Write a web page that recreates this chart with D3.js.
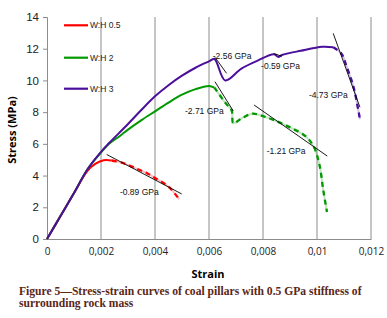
<!DOCTYPE html>
<html>
<head>
<script src="https://cdn.jsdelivr.net/npm/d3@7"></script>
<style>
  body{margin:0;background:#fff;font-family:"Liberation Sans",Arial,sans-serif;}
</style>
</head>
<body>
<div id="chart"></div>
<script>
// curves: [strain, stress MPa]
var redSolid = [[0,0],[0.0005,1.45],[0.001,2.9],[0.0015,4.3],[0.0018,4.75],[0.0021,4.97],[0.0024,4.95]]
var redDash = [[0.0024,4.95],[0.0028,4.8],[0.0033,4.45],[0.0037,4.15],[0.004,3.85],[0.0045,3.3],[0.0049,2.5]]
var greenSolid = [[0,0],[0.0005,1.45],[0.001,2.9],[0.0015,4.4],[0.002,5.45],[0.0023,6.0],[0.0027,6.5],[0.003,6.9],[0.0035,7.5],[0.004,8.05],[0.0045,8.6],[0.005,9.1],[0.0055,9.45],[0.006,9.65],[0.0062,9.55]]
var greenDash = [[0.0062,9.55],[0.0066,8.6],[0.00684,8.1],[0.0069,7.3],[0.0072,7.6],[0.0076,7.9],[0.008,7.75],[0.0084,7.5],[0.009,7.04],[0.0096,6.45],[0.0099,5.75],[0.0101,4.6],[0.01023,3.1],[0.01037,1.7]]
var purpleSolid = [[0,0],[0.0005,1.45],[0.001,2.9],[0.0015,4.4],[0.002,5.5],[0.0023,6.05],[0.003,7.25],[0.0035,8.15],[0.004,9.0],[0.0045,9.7],[0.005,10.3],[0.0055,10.8],[0.006,11.2],[0.0062,11.35],[0.0066,10.0],[0.0072,10.75],[0.0078,11.25],[0.0084,11.65],[0.00857,11.48],[0.0087,11.6],[0.0094,11.87],[0.0102,12.12],[0.0106,12.09]]
var purpleDash = [[0.0106,12.09],[0.0109,11.7],[0.0111,10.86],[0.01135,9.6],[0.01153,8.13],[0.01159,7.55]]

// stiffness lines: label, start, end, label position
var slopeLines = [
  {label:"-0.89 GPa", p1:[0.00221,5.33], p2:[0.00499,2.84], at:[0.0027,2.75]},
  {label:"-2.71 GPa", p1:[0.00622,9.92], p2:[0.0069,8.07], at:[0.00511,7.9]},
  {label:"-2.56 GPa", p1:[0.00622,11.46], p2:[0.00665,10.45], at:[0.00614,11.35]},
  {label:"-0.59 GPa", p1:[0.0084,11.7], p2:[0.0087,11.52], at:[0.00793,10.75]},
  {label:"-4.73 GPa", p1:[0.0106,12.97], p2:[0.01159,8.31], at:[0.0097,8.9]},
  {label:"-1.21 GPa", p1:[0.00767,8.45], p2:[0.01038,5.23], at:[0.00814,5.35]}
]

var legendNames = ["W:H 0.5","W:H 2","W:H 3"]
var colors = ["#ff0000","#009900","#4b0f9b"]
var xTicks = [0,0.002,0.004,0.006,0.008,0.01,0.012]
var xTickLabels = ["0","0,002","0,004","0,006","0,008","0,01","0,012"]
var yTicks = [0,2,4,6,8,10,12,14]

var svg = d3.select("#chart").append("svg").attr("width",387).attr("height",318)

var x = d3.scaleLinear().domain([0,0.012]).range([47,371])
var y = d3.scaleLinear().domain([0,14]).range([239,17])

// vertical gridlines
svg.selectAll(".grid").data(xTicks.slice(1)).enter().append("line")
  .attr("x1",d=>x(d)).attr("x2",d=>x(d)).attr("y1",y(14)).attr("y2",y(0))
  .attr("stroke","#8c8c8c").attr("stroke-width",1)

var yAxis = svg.append("g").attr("transform","translate("+x(0)+",0)")
  .call(d3.axisLeft(y).tickValues(yTicks).tickSize(4).tickPadding(4))
yAxis.selectAll("text").attr("font-size",11.5).attr("fill","#222").attr("font-family","Liberation Sans, Arial")
yAxis.selectAll("path,line").attr("stroke","#8c8c8c")

var xAxis = svg.append("g").attr("transform","translate(0,"+y(0)+")")
  .call(d3.axisBottom(x).tickValues(xTicks).tickSize(0).tickPadding(9).tickFormat((d,i)=>xTickLabels[i]))
xAxis.selectAll("text").attr("font-size",10).attr("fill","#222").attr("font-family","Open Sans, sans-serif")
xAxis.select(".domain").attr("stroke","#8c8c8c")

svg.append("text").text("Strain").attr("x",208).attr("y",278).attr("text-anchor","middle")
  .attr("font-size",11).attr("font-weight","bold").attr("font-family","Open Sans, sans-serif")
svg.append("text").text("Stress (MPa)").attr("transform","translate(16,130) rotate(-90)")
  .attr("text-anchor","middle").attr("font-size",11).attr("font-weight","bold").attr("font-family","Open Sans, sans-serif")

var lineLin = d3.line().x(d=>x(d[0])).y(d=>y(d[1])).curve(d3.curveCatmullRom)

var series = [[redSolid,redDash],[greenSolid,greenDash],[purpleSolid,purpleDash]]
series.forEach(function(s,i){
  svg.append("path").attr("d",lineLin(s[1])).attr("fill","none")
    .attr("stroke",colors[i]).attr("stroke-opacity",0.25).attr("stroke-width",2)
  svg.append("path").attr("d",lineLin(s[1])).attr("fill","none")
    .attr("stroke",colors[i]).attr("stroke-width",2.3).attr("stroke-dasharray","5,4")
  svg.append("path").attr("d",lineLin(s[0])).attr("fill","none")
    .attr("stroke",colors[i]).attr("stroke-width",2)
})

slopeLines.forEach(function(s){
  svg.append("line").attr("x1",x(s.p1[0])).attr("y1",y(s.p1[1]))
    .attr("x2",x(s.p2[0])).attr("y2",y(s.p2[1])).attr("stroke","#000").attr("stroke-width",0.9)
  svg.append("text").text(s.label).attr("x",x(s.at[0])).attr("y",y(s.at[1]))
    .attr("font-size",8.5).attr("fill","#111").attr("font-family","Liberation Sans, Arial")
})

// legend
legendNames.forEach(function(n,i){
  var ly = [25.3,57.7,88.7][i]
  svg.append("line").attr("x1",64).attr("x2",88).attr("y1",ly).attr("y2",ly)
    .attr("stroke",colors[i]).attr("stroke-width",2.2)
  svg.append("text").text(n).attr("x",90).attr("y",ly+3).attr("font-size",8.5)
    .attr("fill","#222").attr("font-family","Liberation Sans, Arial")
})

var cap = svg.append("text").attr("font-family","Liberation Serif, serif").attr("font-weight","bold")
  .attr("font-size",11.6).attr("fill","#5a2616")
cap.append("tspan").attr("x",19).attr("y",295).text("Figure 5\u2014Stress-strain curves of coal pillars with 0.5 GPa stiffness of")
cap.append("tspan").attr("x",19).attr("y",307).text("surrounding rock mass")
</script>
</body>
</html>
